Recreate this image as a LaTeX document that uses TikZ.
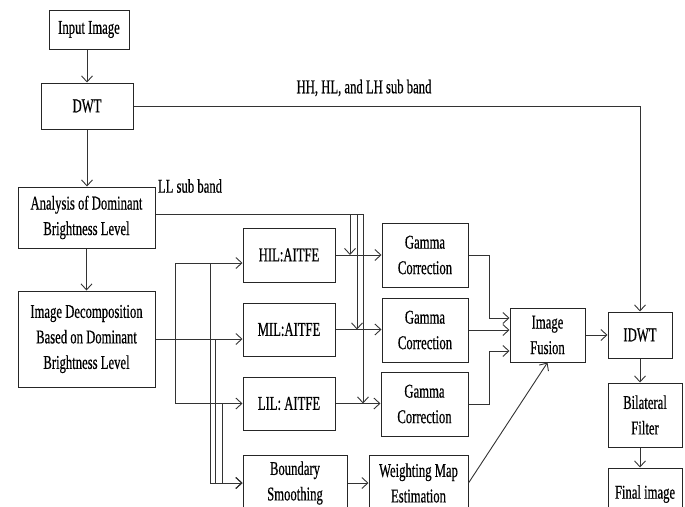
\documentclass[tikz,border=0pt]{standalone}
\usepackage{fontspec}
\setmainfont{Liberation Serif}[FakeStretch=0.65, UprightFeatures={FakeBold=0.5}]
\usetikzlibrary{arrows.meta}

\tikzset{
  block/.style={draw=black!85, line width=1pt, align=center, inner sep=0pt,
    font=\fontsize{19.5}{25.5}\selectfont},
  link/.style={draw=black!80, line width=0.9pt},
  tag/.style={inner sep=0pt, font=\fontsize{19.5}{23}\selectfont}
}

\begin{document}
\begin{tikzpicture}[x=1pt, y=-1pt, >={Straight Barb[length=6pt,width=11pt]}]
    \useasboundingbox (0,0) rectangle (685,506);
    \clip (0,0) rectangle (685,506);

    % Input and DWT
    \node[block, minimum width=80pt, minimum height=39pt] (inp) at (89,29.5) {Input Image};
    \node[block, minimum width=92pt, minimum height=46pt] (dwt) at (87,106) {DWT};

    % Dominant brightness
    \node[block, minimum width=137pt, minimum height=61pt] (ana) at (86.5,217.5) {Analysis of Dominant\\Brightness Level};
    \node[block, minimum width=137pt, minimum height=96pt] (dec) at (86.5,339) {Image Decomposition\\Based on Dominant\\Brightness Level};

    % AITFE per sub image
    \node[block, minimum width=92pt, minimum height=54pt] (hil) at (289,255) {HIL:AITFE};
    \node[block, minimum width=92pt, minimum height=53pt] (mil) at (289,329.5) {MIL:AITFE};
    \node[block, minimum width=92pt, minimum height=53pt] (lil) at (289,403.5) {LIL: AITFE};
    \node[block, minimum width=104pt, minimum height=56pt] (bnd) at (295,483) {Boundary\\Smoothing};

    % Gamma correction
    \node[block, minimum width=86pt, minimum height=64pt] (gam1) at (425,255) {Gamma\\Correction};
    \node[block, minimum width=86pt, minimum height=64pt] (gam2) at (425,330) {Gamma\\Correction};
    \node[block, minimum width=87pt, minimum height=64pt] (gam3) at (424.5,404) {Gamma\\Correction};
    \node[block, minimum width=99pt, minimum height=56pt] (wme) at (418.5,483) {Weighting Map\\Estimation};

    % Fusion and output
    \node[block, minimum width=75pt, minimum height=54pt] (fus) at (547.5,335) {Image\\Fusion};
    \node[block, minimum width=64pt, minimum height=46pt] (idwt) at (640,335) {IDWT};
    \node[block, minimum width=74pt, minimum height=64pt] (bil) at (645,415) {Bilateral\\Filter};
    \node[block, minimum width=74pt, minimum height=52pt] (fin) at (645,494) {Final image};

    % Labels
    \node[tag] (hhtag) at (364,88) {HH, HL, and LH sub band};
    \node[tag] (lltag) at (190,186) {LL sub band};

    % Branch points
    \coordinate (ll) at ([yshift=3.5pt]ana.east);
    \coordinate (l1) at (350,0);
    \coordinate (l2) at (357,0);
    \coordinate (l3) at (363,0);
    \coordinate (sp) at (175,339);
    \coordinate (bh) at (210,263);
    \coordinate (bm) at (215,339);
    \coordinate (bl) at (222,403.5);

    % Main chain
    \draw[link,->] (dwt.north |- inp.south) -- (dwt.north);
    \draw[link,->] (dwt.south) -- (dwt.south |- ana.north);
    \draw[link,->] (ana.south) -- (dec.north);
    \draw[link,->] (dwt.east) -| (idwt.north);

    % LL sub band
    \draw[link,->] (ll) -| (l1 |- hil.east);
    \draw[link,->] (ll) -| (l2 |- mil.east);
    \draw[link,->] (ll) -| (l3 |- lil.east);

    % Decomposition outputs
    \draw[link,->] (dec.east) -- (dec.east -| mil.west);
    \draw[link,->] (sp) |- ([yshift=-8pt]hil.west);
    \draw[link,->] (sp) |- (lil.west);
    \draw[link,->] (bh) |- (bnd.west);
    \draw[link,->] (bm) |- (bnd.west);
    \draw[link,->] (bl) |- (bnd.west);

    % AITFE to gamma
    \draw[link,->] (hil.east) -- (gam1.west);
    \draw[link,->] (mil.east) -- (mil.east -| gam2.west);
    \draw[link,->] (lil.east) -- (lil.east -| gam3.west);
    \draw[link,->] (bnd.east) -- (wme.west);

    % Into fusion
    \draw[link,->] (gam1.east) -- ++(21,0) |- ([yshift=17pt]fus.west);
    \draw[link,->] (gam2.east) -- (gam2.east -| fus.west);
    \draw[link,->] (gam3.east) -- ++(21,0) |- ([yshift=-16pt]fus.west);
    \draw[link,->] (wme.east) -- (fus.south);

    % Reconstruction
    \draw[link,->] (fus.east) -- (idwt.west);
    \draw[link,->] (idwt.south) -- (idwt.south |- bil.north);
    \draw[link,->] (idwt.south |- bil.south) -- (idwt.south |- fin.north);
\end{tikzpicture}
\end{document}
